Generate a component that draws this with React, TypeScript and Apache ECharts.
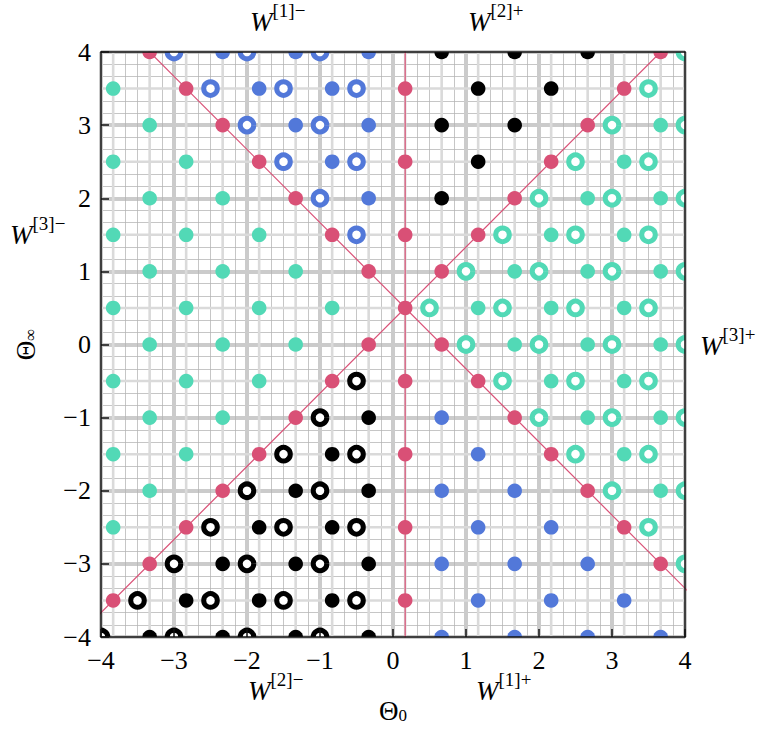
import { useEffect, useRef } from 'react';
import * as echarts from 'echarts';

// ---- data ----
// filled points, grouped by column: [x, [y values]]
const TEAL_DOTS: [number, number[]][] = [
  [-23 / 6, [3.5, 2.5, 1.5, 0.5, -0.5, -1.5, -2.5]],
  [-10 / 3, [3, 2, 1, 0, -1, -2]],
  [-17 / 6, [2.5, 1.5, 0.5, -0.5, -1.5]],
  [-7 / 3, [2, 1, 0, -1]],
  [-11 / 6, [1.5, 0.5, -0.5]],
  [-4 / 3, [1, 0]],
  [-5 / 6, [0.5]],
  [7 / 6, [0.5]],
  [5 / 3, [1, 0]],
  [13 / 6, [1.5, 0.5, -0.5]],
  [8 / 3, [2, 1, 0, -1]],
  [19 / 6, [2.5, 1.5, 0.5, -0.5, -1.5]],
  [11 / 3, [3, 2, 1, 0, -1, -2]],
];
const BLUE_DOTS: [number, number[]][] = [
  [-7 / 3, [4]],
  [-11 / 6, [3.5]],
  [-4 / 3, [4, 3]],
  [-5 / 6, [3.5, 2.5]],
  [-1 / 3, [4, 3, 2]],
  [2 / 3, [-1, -2, -3, -4]],
  [7 / 6, [-1.5, -2.5, -3.5]],
  [5 / 3, [-2, -3, -4]],
  [13 / 6, [-2.5, -3.5]],
  [8 / 3, [-3, -4]],
  [19 / 6, [-3.5]],
  [11 / 3, [-4]],
];
const BLACK_DOTS: [number, number[]][] = [
  [-10 / 3, [-4]],
  [-17 / 6, [-3.5]],
  [-7 / 3, [-3, -4]],
  [-11 / 6, [-2.5, -3.5]],
  [-4 / 3, [-2, -3, -4]],
  [-5 / 6, [-1.5, -2.5, -3.5]],
  [-1 / 3, [-1, -2, -3, -4]],
  [2 / 3, [4, 3, 2]],
  [7 / 6, [3.5, 2.5]],
  [5 / 3, [4, 3]],
  [13 / 6, [3.5]],
  [8 / 3, [4]],
];
const RED_DOTS: [number, number[]][] = [
  [-23 / 6, [-3.5]],
  [-10 / 3, [4, -3]],
  [-17 / 6, [3.5, -2.5]],
  [-7 / 3, [3, -2]],
  [-11 / 6, [2.5, -1.5]],
  [-4 / 3, [2, -1]],
  [-5 / 6, [1.5, -0.5]],
  [-1 / 3, [1, 0]],
  [1 / 6, [3.5, 2.5, 1.5, 0.5, -0.5, -1.5, -2.5, -3.5]],
  [2 / 3, [1, 0]],
  [7 / 6, [1.5, -0.5]],
  [5 / 3, [2, -1]],
  [13 / 6, [2.5, -1.5]],
  [8 / 3, [3, -2]],
  [19 / 6, [3.5, -2.5]],
  [11 / 3, [4, -3]],
];
// open rings
const BLUE_RINGS: [number, number[]][] = [
  [-0.5, [3.5, 2.5, 1.5]],
  [-1, [4, 3, 2]],
  [-1.5, [3.5, 2.5]],
  [-2, [4, 3]],
  [-2.5, [3.5]],
  [-3, [4]],
];
const BLACK_RINGS: [number, number[]][] = [
  [-0.5, [-0.5, -1.5, -2.5, -3.5]],
  [-1, [-1, -2, -3, -4]],
  [-1.5, [-1.5, -2.5, -3.5]],
  [-2, [-2, -3, -4]],
  [-2.5, [-2.5, -3.5]],
  [-3, [-3, -4]],
  [-3.5, [-3.5]],
  [-4, [-4]],
];
const TEAL_RINGS: [number, number[]][] = [
  [0.5, [0.5]],
  [1, [1, 0]],
  [1.5, [1.5, 0.5, -0.5]],
  [2, [2, 1, 0, -1]],
  [2.5, [2.5, 1.5, 0.5, -0.5, -1.5]],
  [3, [3, 2, 1, 0, -1, -2]],
  [3.5, [3.5, 2.5, 1.5, 0.5, -0.5, -1.5, -2.5]],
  [4, [4, 3, 2, 1, 0, -1, -2, -3]],
];
// red guide lines (endpoints in data units)
const RED_LINES: [number, number][][] = [
  [[1 / 6, -5], [1 / 6, 5]],
  [[-5, -14 / 3], [5, 16 / 3]],
  [[-5, 17 / 3], [5, -13 / 3]],
];
// light guide grid lines through the point columns / half rows
const GUIDE_X = [-23 / 6, -10 / 3, -17 / 6, -7 / 3, -11 / 6, -4 / 3, -5 / 6, -1 / 3, 1 / 6, 2 / 3, 7 / 6, 5 / 3, 13 / 6, 8 / 3, 19 / 6, 11 / 3];
const GUIDE_Y = [-3.5, -2.5, -1.5, -0.5, 0.5, 1.5, 2.5, 3.5];
const AXIS_MIN = -4;
const AXIS_MAX = 4;
const AXIS_STEP = 1;

const TEAL = '#52d9b6';
const BLUE = '#5278d9';
const RED = '#d95076';
const BLACK = '#000000';
const FONT = '"Liberation Serif", "DejaVu Serif", serif';

const flat = (cols: [number, number[]][]) => cols.flatMap(([x, ys]) => ys.map((y) => [x, y]));

const minusFmt = (v: number) => (v < 0 ? '\u2212' + Math.abs(v) : String(v));

function pointSeries(cols: [number, number[]][], color: string, ring: boolean) {
  return {
    type: 'custom',
    clip: true,
    z: 4,
    silent: true,
    data: flat(cols),
    renderItem: (_p: any, api: any) => {
      const c = api.coord([api.value(0), api.value(1)]);
      return ring
        ? { type: 'circle', shape: { cx: c[0], cy: c[1], r: 6.8 }, style: { fill: '#ffffff', stroke: color, lineWidth: 5 } }
        : { type: 'circle', shape: { cx: c[0], cy: c[1], r: 7.3 }, style: { fill: color } };
    },
  };
}

const wRich = {
  w: { fontFamily: FONT, fontStyle: 'italic', fontSize: 27, lineHeight: 34, verticalAlign: 'bottom', fill: '#000' },
  s: { fontFamily: FONT, fontSize: 19, lineHeight: 19, verticalAlign: 'top', fill: '#000' },
};
const wText = (sup: string, x: number, y: number) => ({
  type: 'text',
  x,
  y,
  style: { text: `{w|W}{s|${sup}}`, rich: wRich, align: 'left', verticalAlign: 'top' },
});

export default function App() {
  const ref = useRef<HTMLDivElement>(null);
  useEffect(() => {
    const chart = echarts.init(ref.current!, null, { renderer: 'svg' });
    const baseAxis = {
      type: 'value',
      min: AXIS_MIN,
      max: AXIS_MAX,
      interval: AXIS_STEP,
    };
    const subRich = {
      t: { fontFamily: FONT, fontSize: 27, lineHeight: 27, verticalAlign: 'top', color: '#000' },
      s: { fontFamily: FONT, fontSize: 17, lineHeight: 17, padding: [14, 0, 0, 0], verticalAlign: 'bottom', color: '#000' },
    };
    const nameStyle = { fontFamily: FONT, fontSize: 27, color: '#000', rich: subRich };
    const option: any = {
      animation: false,
      backgroundColor: '#ffffff',
      grid: { left: 100, right: 83, top: 52, bottom: 93, containLabel: false },
      xAxis: [
        {
          ...baseAxis,
          position: 'bottom',
          name: '{t|Θ}{s|0}',
          nameLocation: 'middle',
          nameGap: 60,
          nameTextStyle: nameStyle,
          axisLine: { show: false },
          axisTick: { show: false },
          axisLabel: { formatter: minusFmt, fontFamily: FONT, fontSize: 26, color: '#000', margin: 10 },
          splitLine: { show: true, lineStyle: { color: '#cbcbcb', width: 4 } },
          minorTick: { show: false, splitNumber: 6 },
          minorSplitLine: { show: true, lineStyle: { color: '#b3b3b3', width: 0.75 } },
        },
        {
          ...baseAxis,
          position: 'bottom',
          z: 10,
          axisLine: { show: true, onZero: false, lineStyle: { color: '#111', width: 1.5 } },
          axisTick: { show: true, inside: true, length: 8, lineStyle: { color: '#111', width: 1.5 } },
          axisLabel: { show: false },
          splitLine: { show: false },
        },
        {
          ...baseAxis,
          position: 'top',
          z: 10,
          axisLine: { show: true, onZero: false, lineStyle: { color: '#111', width: 1.5 } },
          axisTick: { show: false },
          axisLabel: { show: false },
          splitLine: { show: false },
        },
      ],
      yAxis: [
        {
          ...baseAxis,
          position: 'left',
          name: '{t|Θ}{s|∞}',
          nameLocation: 'middle',
          nameGap: 62,
          nameRotate: 90,
          nameTextStyle: nameStyle,
          axisLine: { show: false },
          axisTick: { show: false },
          axisLabel: { formatter: minusFmt, fontFamily: FONT, fontSize: 26, color: '#000', margin: 10 },
          splitLine: { show: true, lineStyle: { color: '#cbcbcb', width: 4 } },
          minorTick: { show: false, splitNumber: 6 },
          minorSplitLine: { show: true, lineStyle: { color: '#b3b3b3', width: 0.75 } },
        },
        {
          ...baseAxis,
          position: 'left',
          z: 10,
          axisLine: { show: true, onZero: false, lineStyle: { color: '#111', width: 1.5 } },
          axisTick: { show: true, inside: true, length: 8, lineStyle: { color: '#111', width: 1.5 } },
          axisLabel: { show: false },
          splitLine: { show: false },
        },
        {
          ...baseAxis,
          position: 'right',
          z: 10,
          axisLine: { show: true, onZero: false, lineStyle: { color: '#111', width: 1.5 } },
          axisTick: { show: false },
          axisLabel: { show: false },
          splitLine: { show: false },
        },
      ],
      series: [
        {
          type: 'custom',
          clip: true,
          z: 1,
          silent: true,
          data: GUIDE_X.map((x) => [x, 0]),
          renderItem: (_p: any, api: any) => {
            const a = api.coord([api.value(0), AXIS_MAX]);
            const b = api.coord([api.value(0), AXIS_MIN]);
            return { type: 'line', shape: { x1: a[0], y1: a[1], x2: b[0], y2: b[1] }, style: { stroke: '#dadada', lineWidth: 2.6 } };
          },
        },
        {
          type: 'custom',
          clip: true,
          z: 1,
          silent: true,
          data: GUIDE_Y.map((y) => [0, y]),
          renderItem: (_p: any, api: any) => {
            const a = api.coord([AXIS_MIN, api.value(1)]);
            const b = api.coord([AXIS_MAX, api.value(1)]);
            return { type: 'line', shape: { x1: a[0], y1: a[1], x2: b[0], y2: b[1] }, style: { stroke: '#dadada', lineWidth: 2.6 } };
          },
        },
        ...RED_LINES.map((pts) => ({
          type: 'line',
          data: pts,
          z: 3,
          clip: true,
          silent: true,
          showSymbol: false,
          symbol: 'none',
          lineStyle: { color: RED, width: 1.2 },
        })),
        pointSeries(TEAL_DOTS, TEAL, false),
        pointSeries(BLUE_DOTS, BLUE, false),
        pointSeries(BLACK_DOTS, BLACK, false),
        pointSeries(RED_DOTS, RED, false),
        pointSeries(TEAL_RINGS, TEAL, true),
        pointSeries(BLUE_RINGS, BLUE, true),
        pointSeries(BLACK_RINGS, BLACK, true),
      ],
      graphic: [
        wText('[1]\u2212', 250, 1),
        wText('[2]+', 468, 1),
        wText('[3]\u2212', 10, 214),
        wText('[3]+', 700, 325),
        wText('[2]\u2212', 248, 670),
        wText('[1]+', 476, 670),
      ],
    };
    chart.setOption(option);
    return () => chart.dispose();
  }, []);
  return (
    <div
      ref={ref}
      style={{ position: 'fixed', left: 0, top: 0, width: 768, height: 730, background: '#ffffff' }}
    />
  );
}
